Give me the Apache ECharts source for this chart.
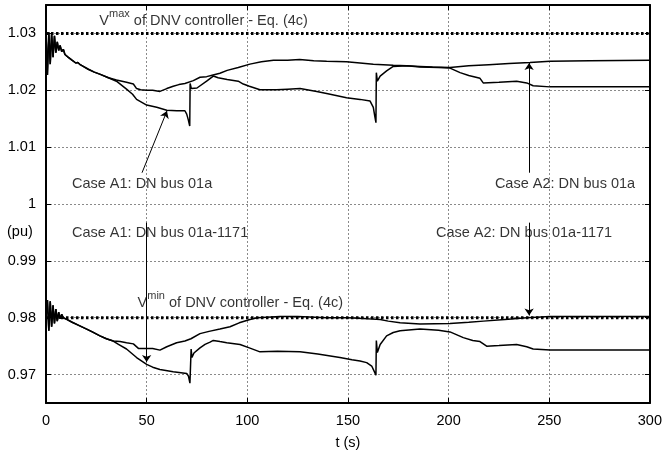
<!DOCTYPE html>
<html>
<head>
<meta charset="utf-8">
<script src="https://cdn.jsdelivr.net/npm/echarts@6/dist/echarts.min.js"></script>
<style>html,body{margin:0;padding:0;background:#fff}#c{width:665px;height:455px}</style>
</head>
<body>
<div id="c"></div>
<script>
// ---------- data ----------
const xTicks = [0, 50, 100, 150, 200, 250, 300];
const yTicks = [0.97, 0.98, 0.99, 1.00, 1.01, 1.02, 1.03];
const vMaxLimit = [[0, 1.03], [300, 1.03]];
const vMinLimit = [[0, 0.98], [300, 0.98]];

const startUpper = [[0,1.0300],[0.7,1.0227],[1.4,1.0302],[2.1,1.0246],[2.8,1.0300],[3.5,1.0258],[4.2,1.0296],[4.9,1.0266],[5.6,1.0285],[6.3,1.0270],[7.0,1.0279],[7.8,1.0268],[8.6,1.0272],[9.4,1.0263],[10.2,1.0266],[11.1,1.0258],[12.0,1.0260],[12.9,1.0253],[13.8,1.0254],[14.8,1.0248],[15.8,1.0249],[17,1.0245],[18.5,1.0242],[21,1.0237],[24,1.0232],[27,1.0228],[31,1.0222]];

const caseA2Bus01a = startUpper.concat([[35,1.0218],[40,1.0214],[43.4,1.0211],[45,1.0203],[47,1.0201],[50,1.0200],[53,1.0200],[56.6,1.0198],[60,1.0203],[63.2,1.0207],[66,1.0210],[69,1.0212],[73.2,1.0217],[76.5,1.0223],[79.8,1.0224],[83,1.0227],[86.4,1.0230],[90,1.0235],[95.5,1.0240],[101.3,1.0246],[107,1.0250],[113,1.0253],[120,1.0253],[126,1.0254],[133,1.0252],[139.4,1.0251],[149.3,1.0250],[156,1.0248],[162.6,1.0246],[172.5,1.0244],[179,1.0243],[185.8,1.0242],[192,1.0241],[200.7,1.0240],[210,1.0243],[220,1.0245],[230,1.0247],[240.4,1.0249],[250.4,1.0251],[270,1.0252],[300,1.0253]]);

const caseA1Bus01a = startUpper.concat([[35,1.0216],[40,1.0202],[43,1.0193],[45,1.0184],[50,1.0174],[55,1.0170],[60,1.0165],[65,1.0164],[69,1.0164],[69.9,1.0158],[70.7,1.0148],[71.4,1.0137],[71.6,1.0212],[72.2,1.0203],[73,1.0200],[75,1.0204],[79.8,1.0216],[83.1,1.0225],[85.5,1.0222],[90,1.0219],[95.5,1.0216],[98,1.0211],[101,1.0207],[106.3,1.0201],[114.5,1.0201],[120,1.0202],[126.2,1.0203],[134.5,1.0198],[140,1.0194],[149.3,1.0187],[156,1.0184],[161,1.0181],[162.6,1.0170],[163.3,1.0155],[163.9,1.0143],[164.1,1.0231],[164.6,1.0216],[166,1.0225],[169.2,1.0234],[172.5,1.0242],[179.2,1.0243],[185.8,1.0241],[195,1.0240],[200.7,1.0239],[205.7,1.0231],[210,1.0226],[215.6,1.0221],[217.2,1.0213],[225,1.0214],[233.8,1.0216],[238.8,1.0213],[242,1.0208],[250.4,1.0206],[270,1.0206],[300,1.0206]]);

const startLower = [[0,0.9800],[0.7,0.9831],[1.4,0.9777],[2.1,0.9829],[2.8,0.9784],[3.5,0.9822],[4.2,0.9790],[4.9,0.9815],[5.6,0.9794],[6.3,0.9810],[7.0,0.9798],[7.8,0.9806],[8.6,0.9800],[9.4,0.9803],[10.3,0.9797],[13,0.9792],[16,0.9787],[20.2,0.9780],[23,0.9775],[26.8,0.9768],[30,0.9763],[33.4,0.9759]];

const caseA2Bus01a1171 = startLower.concat([[36.8,0.9758],[40,0.9756],[43.4,0.9754],[45.9,0.9746],[50,0.9746],[53,0.9746],[56.6,0.9743],[60,0.9749],[64.9,0.9756],[69,0.9759],[72,0.9763],[76.5,0.9772],[81,0.9776],[86.4,0.9780],[91.4,0.9784],[96,0.9791],[101.3,0.9797],[105,0.9800],[109.6,0.9801],[116.2,0.9802],[125,0.9802],[139.4,0.9800],[150,0.9800],[160,0.9798],[166,0.9797],[170,0.9794],[175.9,0.9791],[185.8,0.9789],[200.7,0.9790],[210,0.9792],[217.3,0.9794],[228,0.9797],[238.8,0.9800],[250.4,0.9802],[275,0.9802],[300,0.9802]]);

const caseA1Bus01a1171 = startLower.concat([[36,0.9753],[40,0.9745],[45,0.9730],[50,0.9718],[53,0.9713],[56.6,0.9709],[63.2,0.9705],[69.9,0.9702],[70.8,0.9697],[71.5,0.9685],[71.9,0.9683],[72.1,0.9745],[72.5,0.9730],[73.5,0.9738],[76.5,0.9747],[79,0.9753],[81.5,0.9757],[83.1,0.9760],[86.4,0.9758],[89.8,0.9756],[96.4,0.9753],[101,0.9747],[106.3,0.9740],[115,0.9741],[126.2,0.9740],[135,0.9736],[146,0.9730],[152,0.9726],[156,0.9724],[159.3,0.9721],[161.8,0.9715],[163,0.9706],[163.9,0.9699],[164.1,0.9760],[164.6,0.9739],[166,0.9753],[169.2,0.9768],[172.5,0.9774],[175.9,0.9777],[185.8,0.9780],[195,0.9778],[200.7,0.9775],[207.3,0.9765],[212,0.9760],[215.6,0.9758],[218.9,0.9750],[225,0.9751],[233.8,0.9753],[238.8,0.9749],[242,0.9745],[250.4,0.9743],[275,0.9743],[300,0.9743]]);

// ---------- annotations (layout) ----------
const FONT = 'Liberation Sans, Arial, sans-serif';
const FS = 14.5;
const annotTexts = [
  { at: [26.5, 1.03225], rich: true, text: '{v|V}{s|max}{v| of DNV controller - Eq. (4c)}' },
  { at: [45.5, 0.98263], rich: true, text: '{v|V}{s|min}{v| of DNV controller - Eq. (4c)}' },
  { at: [12.9, 1.00356], text: 'Case A1: DN bus 01a' },
  { at: [223.0, 1.00356], text: 'Case A2: DN bus 01a' },
  { at: [12.9, 0.99496], text: 'Case A1: DN bus 01a-1171' },
  { at: [193.7, 0.99496], text: 'Case A2: DN bus 01a-1171' }
];
const arrows = [
  [[47.7, 1.0055], [60.1, 1.01637]],
  [[240, 1.0055], [240, 1.0248]],
  [[50, 0.99672], [50, 0.9722]],
  [[240, 0.99672], [240, 0.9804]]
];

const chart = echarts.init(document.getElementById('c'), null, { renderer: 'canvas' });

const gridLine = { show: true, lineStyle: { color: '#8a8a8a', width: 1, type: [2, 2] } };
const frameLine = { show: true, onZero: false, lineStyle: { color: '#000', width: 2 } };
const tickIn = { show: true, inside: true, length: 5, lineStyle: { color: '#000', width: 1 } };
const lbl = { color: '#000', fontSize: FS, fontFamily: FONT };

const lineSeries = (name, data) => ({
  name, type: 'line', data, showSymbol: false, symbol: 'none',
  lineStyle: { color: '#000', width: 1.5 }, z: 3, animation: false
});

chart.setOption({
  animation: false,
  backgroundColor: '#fff',
  textStyle: { fontFamily: FONT },
  grid: { left: 46, right: 15, top: 5, bottom: 52, containLabel: false },
  xAxis: [
    { type: 'value', min: 0, max: 300, interval: 50, position: 'bottom',
      axisLine: frameLine, axisTick: tickIn, splitLine: gridLine,
      axisLabel: Object.assign({ margin: 10 }, lbl),
      name: 't (s)', nameLocation: 'middle', nameGap: 32,
      nameTextStyle: lbl },
    { type: 'value', min: 0, max: 300, interval: 50, position: 'top',
      axisLine: frameLine, axisTick: tickIn, splitLine: { show: false }, axisLabel: { show: false } }
  ],
  yAxis: [
    { type: 'value', min: 0.965, max: 1.035, position: 'left',
      axisLine: frameLine,
      axisTick: Object.assign({ customValues: yTicks }, tickIn),
      splitLine: gridLine,
      axisLabel: Object.assign({ customValues: yTicks, margin: 10,
        formatter: v => String(parseFloat(v.toFixed(2))) }, lbl) },
    { type: 'value', min: 0.965, max: 1.035, position: 'right',
      axisLine: frameLine,
      axisTick: Object.assign({ customValues: yTicks }, tickIn),
      splitLine: { show: false }, axisLabel: { show: false } }
  ],
  graphic: [
    { type: 'text', left: 7, top: 224, style: { text: '(pu)', fill: '#000', font: FS + 'px ' + FONT } }
  ],
  series: [
    { type: 'line', data: vMaxLimit, symbol: 'none', lineStyle: { color: '#000', width: 3, type: [2.5, 2.5] }, z: 2 },
    { type: 'line', data: vMinLimit, symbol: 'none', lineStyle: { color: '#000', width: 3, type: [2.5, 2.5] }, z: 2 },
    lineSeries('Case A1: DN bus 01a', caseA1Bus01a),
    lineSeries('Case A2: DN bus 01a', caseA2Bus01a),
    lineSeries('Case A1: DN bus 01a-1171', caseA1Bus01a1171),
    lineSeries('Case A2: DN bus 01a-1171', caseA2Bus01a1171),
    {
      type: 'scatter', symbolSize: 0, z: 5, silent: true,
      data: annotTexts.map(a => ({
        value: a.at,
        label: {
          show: true, position: 'right', distance: 0, color: '#000',
          fontSize: FS, fontFamily: FONT,
          formatter: a.text,
          rich: a.rich ? {
            v: { fontSize: FS, fontFamily: FONT, color: '#000' },
            s: { fontSize: 11, fontFamily: FONT, color: '#000', padding: [0, 0, 13, 0] }
          } : undefined
        }
      })),
      markLine: {
        silent: true, symbol: ['none', 'arrow'], symbolSize: 7,
        label: { show: false },
        lineStyle: { color: '#000', width: 1, type: 'solid' },
        emphasis: { disabled: true },
        data: arrows.map(a => [{ coord: a[0] }, { coord: a[1] }])
      }
    }
  ]
});
</script>
</body>
</html>
